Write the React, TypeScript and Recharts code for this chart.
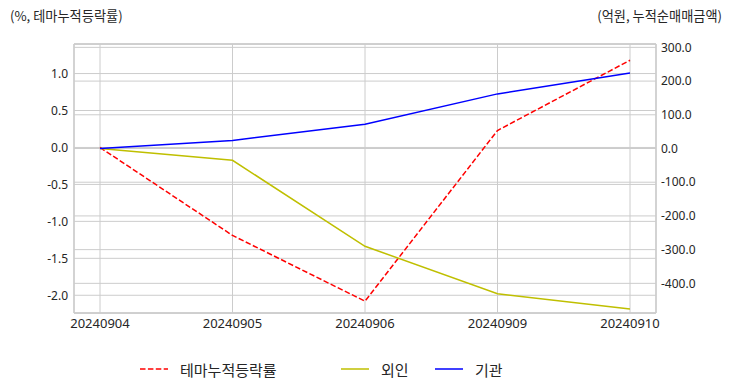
import {
  CartesianGrid,
  Line,
  LineChart,
  ReferenceLine,
  XAxis,
  YAxis,
} from "recharts";

// Trading dates on the x axis
const dates = ["20240904", "20240905", "20240906", "20240909", "20240910"];
// Cumulative theme return (%), left axis
const themeReturn = [0, -1.19, -2.08, 0.23, 1.18];
// Cumulative net buying (100M KRW), right axis
const foreignNet = [0, -35, -290, -431, -476];
const institutionNet = [0, 24, 72, 162, 224];

const leftTicks = [-2, -1.5, -1, -0.5, 0, 0.5, 1];
const rightTicks = [-400, -300, -200, -100, 0, 100, 200, 300];
const leftDomain = [-2.24, 1.4];
const rightDomain = [-488, 310];

const data = dates.map((d, i) => ({
  date: d,
  theme: themeReturn[i],
  foreign: foreignNet[i],
  inst: institutionNet[i],
}));

const FONT = "'Noto Sans', 'Liberation Sans', 'Noto Sans CJK KR', sans-serif";
const KFONT = "'Noto Sans CJK KR', 'Noto Sans', sans-serif";
const GRID = "#cccccc";
const X_TICK = { fill: "#262626", fontSize: 13, fontFamily: FONT };
const Y_TICK = { fill: "#262626", fontSize: 12, fontFamily: FONT };

const legendItems = [
  { label: "테마누적등락률", color: "#ff0000", dash: true, left: 132 },
  { label: "외인", color: "#bfbf00", dash: false, left: 333 },
  { label: "기관", color: "#0000ff", dash: false, left: 427 },
];

export default function App() {
  return (
    <div style={{ position: "relative", width: 716, height: 376, fontFamily: KFONT }}>
      <div
        style={{
          position: "absolute",
          left: 2,
          top: 0,
          fontSize: 13.2,
          lineHeight: "16px",
          color: "#262626",
        }}
      >
        (%, 테마누적등락률)
      </div>
      <div
        style={{
          position: "absolute",
          right: 2,
          top: 0,
          fontSize: 13.2,
          lineHeight: "16px",
          color: "#262626",
        }}
      >
        (억원, 누적순매매금액)
      </div>
      <LineChart
        width={716}
        height={376}
        data={data}
        margin={{ top: 36, right: 0, left: 0, bottom: 41 }}
      >
        <CartesianGrid yAxisId="left" stroke={GRID} strokeWidth={1} />
        <CartesianGrid yAxisId="right" stroke={GRID} strokeWidth={1} vertical={false} />
        <XAxis
          dataKey="date"
          padding={{ left: 26, right: 26 }}
          tick={X_TICK}
          tickLine={false}
          tickSize={0}
          tickMargin={6}
          height={30}
          axisLine={{ stroke: GRID, strokeWidth: 1.5 }}
        />
        <YAxis
          yAxisId="left"
          orientation="left"
          type="number"
          domain={leftDomain}
          ticks={leftTicks}
          tickFormatter={(v: number) => v.toFixed(1)}
          tick={Y_TICK}
          tickLine={false}
          tickSize={0}
          tickMargin={6}
          width={66}
          axisLine={{ stroke: GRID, strokeWidth: 1.5 }}
        />
        <YAxis
          yAxisId="right"
          orientation="right"
          type="number"
          domain={rightDomain}
          ticks={rightTicks}
          tickFormatter={(v: number) => v.toFixed(1)}
          tick={{ ...Y_TICK, textAnchor: "start" }}
          tickLine={false}
          tickSize={0}
          tickMargin={5}
          width={68}
          axisLine={{ stroke: GRID, strokeWidth: 1.5 }}
        />
        <ReferenceLine yAxisId="left" y={leftDomain[1]} stroke={GRID} strokeWidth={1.5} />
        <Line
          yAxisId="left"
          dataKey="theme"
          stroke="#ff0000"
          strokeWidth={1.5}
          strokeDasharray="5.5 2.4"
          dot={false}
          isAnimationActive={false}
        />
        <Line
          yAxisId="right"
          dataKey="foreign"
          stroke="#bfbf00"
          strokeWidth={1.5}
          dot={false}
          isAnimationActive={false}
        />
        <Line
          yAxisId="right"
          dataKey="inst"
          stroke="#0000ff"
          strokeWidth={1.5}
          dot={false}
          isAnimationActive={false}
        />
      </LineChart>
      {legendItems.map((it) => (
        <div
          key={it.label}
          style={{
            position: "absolute",
            left: it.left,
            top: 351,
            height: 20,
            display: "flex",
            alignItems: "center",
            gap: 12,
            fontSize: 15,
            color: "#262626",
          }}
        >
          <svg width={28} height={4}>
            <line
              x1={0}
              y1={2}
              x2={28}
              y2={2}
              stroke={it.color}
              strokeWidth={1.5}
              strokeDasharray={it.dash ? "5.5 2.4" : undefined}
            />
          </svg>
          <span>{it.label}</span>
        </div>
      ))}
    </div>
  );
}
